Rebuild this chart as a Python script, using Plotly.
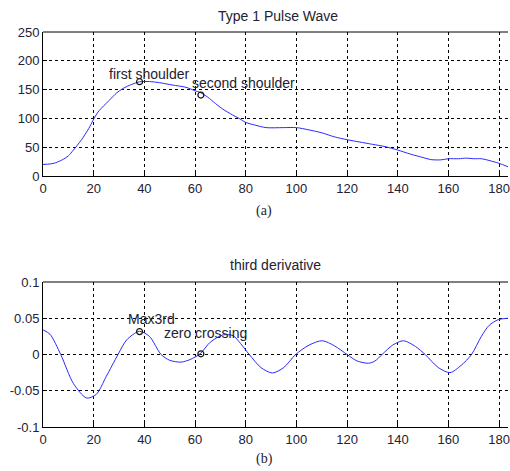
import plotly.graph_objects as go

# Top: pulse wave
pw_x = [0, 3, 5, 8, 10, 12, 15.2, 18, 19.8, 21.7, 24, 26.3, 29, 31.6, 35, 38, 42, 46, 51, 56.4, 60, 62, 65, 68, 71, 74.8, 77.4, 80, 84, 88, 95, 100, 105, 110, 115, 120, 125, 130, 135, 140, 145, 150, 153, 157, 160, 164, 167, 170, 173, 176, 180, 183.5]
pw_y = [20, 21, 23, 29, 35, 45, 63, 82, 97, 111, 122, 132, 144, 152, 159, 163.5, 164, 162, 158, 154, 148, 145, 137, 126, 116, 106, 100, 93, 88, 84, 84, 84, 80, 75, 68, 63, 59, 55, 51, 45, 38, 32, 28.5, 28, 30, 30, 31, 30, 30, 27, 22, 16]

# Bottom: third derivative
td_x = [0, 2.75, 7, 12, 17.2, 21, 25, 29.6, 33, 38, 42, 46.6, 50, 54.5, 58, 62, 66, 71, 75, 78, 81.4, 86, 90.5, 95, 99.7, 105, 110.2, 115, 120, 124, 128.5, 131, 133.8, 138, 142.3, 147, 150.8, 156, 160.6, 165, 169.1, 173, 176, 179.6, 183.5]
td_y = [0.034, 0.028, 0, -0.040, -0.060, -0.055, -0.03, 0, 0.02, 0.032, 0.025, 0, -0.008, -0.0105, -0.007, 0.001, 0.017, 0.027, 0.026, 0.015, 0, -0.018, -0.0255, -0.018, 0, 0.013, 0.019, 0.012, 0, -0.009, -0.012, -0.009, 0, 0.013, 0.019, 0.011, 0, -0.018, -0.025, -0.015, 0, 0.025, 0.04, 0.048, 0.05]

# Markers and labels
top_mark_x = [38.1, 62.3]
top_mark_y = [163.7, 140.5]
top_labels = ["first shoulder", "second shoulder"]
top_label_x = [25.3, 58]
top_label_y = [177, 161]

bot_mark_x = [38.1, 62.3]
bot_mark_y = [0.0316, 0.001]
bot_labels = ["Max3rd", "zero crossing"]
bot_label_x = [32.6, 46.9]
bot_label_y = [0.049, 0.029]

x_ticks = list(range(0, 181, 20))
top_y_ticks = [0, 50, 100, 150, 200, 250]
bot_y_ticks = [-0.1, -0.05, 0, 0.05, 0.1]
bot_y_text = ["-0.1", "-0.05", "0", "0.05", "0.1"]

FONT = "Liberation Sans, Arial, sans-serif"
TXT = "#222233"
BLUE = "#2a2aff"

W, H = 510, 471
L, R, T, B = 43, 0, 32, 44
plot_h = H - T - B
plot_w = W - L - R


def ypaper(pix):
    return (H - B - pix) / plot_h


def xpaper(pix):
    return (pix - L) / plot_w


fig = go.Figure()
fig.add_trace(go.Scatter(x=pw_x, y=pw_y, mode="lines", line=dict(color=BLUE, width=1, shape="spline", smoothing=0.8),
                         xaxis="x", yaxis="y", showlegend=False, hoverinfo="skip"))
fig.add_trace(go.Scatter(x=top_mark_x, y=top_mark_y, mode="markers",
                         marker=dict(symbol="circle-open", size=6, color="#111", line=dict(width=1.2)),
                         xaxis="x", yaxis="y", showlegend=False))
fig.add_trace(go.Scatter(x=td_x, y=td_y, mode="lines", line=dict(color=BLUE, width=1, shape="spline", smoothing=0.8),
                         xaxis="x2", yaxis="y2", showlegend=False, hoverinfo="skip"))
fig.add_trace(go.Scatter(x=bot_mark_x, y=bot_mark_y, mode="markers",
                         marker=dict(symbol="circle-open", size=6, color="#111", line=dict(width=1.2)),
                         xaxis="x2", yaxis="y2", showlegend=False))

ann = []
for t, x, y in zip(top_labels, top_label_x, top_label_y):
    ann.append(dict(x=x, y=y, xref="x", yref="y", text=t, showarrow=False, xanchor="left", yanchor="middle",
                    font=dict(family=FONT, size=14, color=TXT)))
for t, x, y in zip(bot_labels, bot_label_x, bot_label_y):
    ann.append(dict(x=x, y=y, xref="x2", yref="y2", text=t, showarrow=False, xanchor="left", yanchor="middle",
                    font=dict(family=FONT, size=14, color=TXT)))

ann += [
    dict(x=xpaper(279), y=ypaper(16), xref="paper", yref="paper", text="Type 1 Pulse Wave", showarrow=False,
         xanchor="center", yanchor="middle", font=dict(family=FONT, size=14, color=TXT)),
    dict(x=xpaper(276), y=ypaper(265), xref="paper", yref="paper", text="third derivative", showarrow=False,
         xanchor="center", yanchor="middle", font=dict(family=FONT, size=14, color=TXT)),
    dict(x=xpaper(265), y=ypaper(211), xref="paper", yref="paper", text="(a)", showarrow=False,
         xanchor="center", yanchor="middle", font=dict(family="Liberation Serif, Times New Roman, serif", size=14, color=TXT)),
    dict(x=xpaper(265), y=ypaper(459), xref="paper", yref="paper", text="(b)", showarrow=False,
         xanchor="center", yanchor="middle", font=dict(family="Liberation Serif, Times New Roman, serif", size=14, color=TXT)),
]

common_axis = dict(showline=True, linecolor="black", linewidth=1, ticks="inside", ticklen=4, tickcolor="black",
                   showgrid=True, gridcolor="black", gridwidth=1, griddash="3px,3px", zeroline=False,
                   ticklabeloverflow="allow",
                   tickfont=dict(family=FONT, size=13, color=TXT))

fig.update_layout(
    width=W, height=H,
    margin=dict(l=L, r=R, t=T, b=B),
    paper_bgcolor="white", plot_bgcolor="white",
    xaxis=dict(range=[0, 183.5], tickvals=x_ticks, anchor="y", **common_axis),
    yaxis=dict(range=[0, 250], tickvals=top_y_ticks, domain=[ypaper(176), ypaper(32)], anchor="x", **common_axis),
    xaxis2=dict(range=[0, 183.5], tickvals=x_ticks, anchor="y2", **common_axis),
    yaxis2=dict(range=[-0.1, 0.1], tickvals=bot_y_ticks, ticktext=bot_y_text, domain=[ypaper(427), ypaper(282)],
                anchor="x2", **common_axis),
    annotations=ann,
    shapes=[
        dict(type="line", xref="x domain", yref="y domain", x0=0, x1=1, y0=1, y1=1, line=dict(color="black", width=1)),
        dict(type="line", xref="x2 domain", yref="y2 domain", x0=0, x1=1, y0=1, y1=1, line=dict(color="black", width=1)),
    ],
)

fig.write_html(
    "out.html",
    config={"displayModeBar": False},
    post_script="document.body.style.margin='0';document.body.style.overflow='hidden';",
)
